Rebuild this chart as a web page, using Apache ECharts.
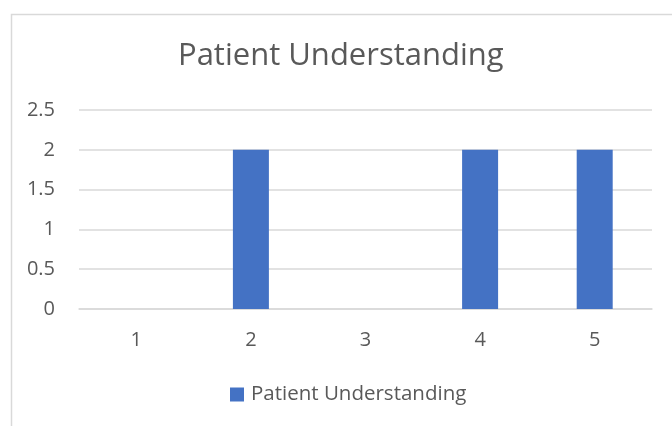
<!DOCTYPE html>
<html><head><meta charset="utf-8">
<script src="https://cdn.jsdelivr.net/npm/echarts@6/dist/echarts.min.js"></script>
<style>html,body{margin:0;padding:0;background:#fff}#c{width:672px;height:426px}</style>
</head><body><div id="c"></div>
<script>
const categories = ['1', '2', '3', '4', '5'];
const seriesName = 'Patient Understanding';
const values = [0, 2, 0, 2, 2];
const titleText = 'Patient Understanding';

const chart = echarts.init(document.getElementById('c'), null, {renderer: 'canvas'});
chart.setOption({
  animation: false,
  backgroundColor: '#fff',
  graphic: [{
    type: 'rect', left: 9, top: 12, shape: {width: 700, height: 500},
    style: {fill: 'none', stroke: '#d9d9d9', lineWidth: 1.5}, silent: true
  }],
  title: {
    text: titleText, left: 178, top: 41, padding: 0,
    textStyle: {fontFamily: 'Open Sans', fontSize: 31, fontWeight: 'normal', color: '#595959'}
  },
  legend: {
    data: [seriesName], top: 384, left: 230, padding: 0, itemWidth: 14, itemHeight: 14, icon: 'rect', itemGap: 6,
    textStyle: {fontFamily: 'Open Sans', fontSize: 20.5, color: '#595959', padding: [0, 0, 0, 2]}
  },
  grid: {left: 79, right: 20, top: 110, bottom: 117},
  xAxis: {
    type: 'category', data: categories,
    axisLine: {lineStyle: {color: '#d9d9d9', width: 1.5}},
    axisTick: {show: false},
    axisLabel: {margin: 21, fontFamily: 'Open Sans', fontSize: 20, color: '#595959'}
  },
  yAxis: {
    type: 'value', min: 0, max: 2.5, interval: 0.5,
    axisLine: {show: false}, axisTick: {show: false},
    splitLine: {lineStyle: {color: '#d9d9d9', width: 1.5}},
    axisLabel: {margin: 24, fontFamily: 'Open Sans', fontSize: 20, color: '#595959'}
  },
  series: [{
    name: seriesName, type: 'bar', data: values, barWidth: 36,
    itemStyle: {color: '#4472c4'}
  }]
});
</script></body></html>
